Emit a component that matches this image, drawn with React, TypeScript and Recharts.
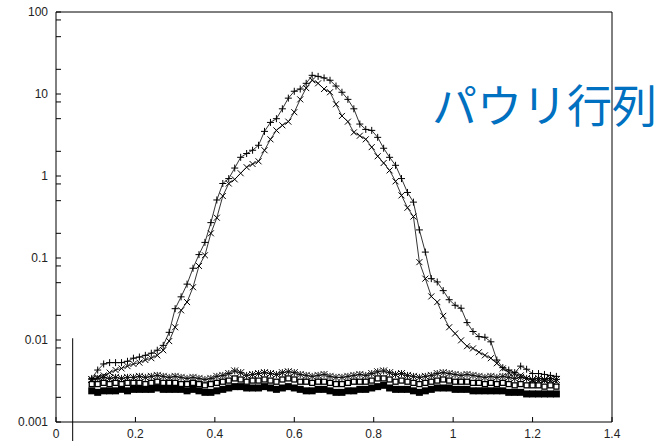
import { LineChart, Line, XAxis, YAxis, ReferenceLine } from 'recharts';

const xs = [
  0.09, 0.105, 0.12, 0.135, 0.15, 0.165, 0.18, 0.195, 0.21, 0.225,
  0.24, 0.255, 0.27, 0.285, 0.3, 0.315, 0.33, 0.345, 0.36, 0.375,
  0.39, 0.405, 0.42, 0.435, 0.45, 0.465, 0.48, 0.495, 0.51, 0.525,
  0.54, 0.555, 0.57, 0.585, 0.6, 0.615, 0.63, 0.645, 0.66, 0.675,
  0.69, 0.705, 0.72, 0.735, 0.75, 0.765, 0.78, 0.795, 0.81, 0.825,
  0.84, 0.855, 0.87, 0.885, 0.9, 0.915, 0.93, 0.945, 0.96, 0.975,
  0.99, 1.005, 1.02, 1.035, 1.05, 1.065, 1.08, 1.095, 1.11, 1.125,
  1.14, 1.155, 1.17, 1.185, 1.2, 1.215, 1.23, 1.245, 1.26,
];

// "+" series
const plusVals = [
  0.0034, 0.0043, 0.0051, 0.0053, 0.0053, 0.0053, 0.0055, 0.006, 0.0062, 0.0065,
  0.0069, 0.0075, 0.0086, 0.0124, 0.0241, 0.0336, 0.048, 0.075, 0.11, 0.155,
  0.27, 0.51, 0.81, 0.93, 1.25, 1.69, 1.88, 2.06, 2.37, 3.5,
  4.5, 5.0, 6.6, 8.9, 10.8, 11.5, 13.5, 16.9, 16.4, 15.7,
  14.7, 12.5, 10.5, 8.6, 6.6, 4.3, 3.7, 3.6, 2.96, 2.18,
  1.69, 1.35, 0.93, 0.63, 0.48, 0.22, 0.118, 0.056, 0.051, 0.04,
  0.031, 0.0265, 0.0244, 0.0163, 0.0127, 0.011, 0.0108, 0.0095, 0.0057, 0.0046,
  0.0043, 0.004, 0.0048, 0.0044, 0.0039, 0.0039, 0.0038, 0.0037, 0.0036,
];

// "x" series
const crossVals = [
  0.0033, 0.0035, 0.0037, 0.004, 0.0043, 0.0045, 0.0048, 0.0051, 0.0053, 0.0057,
  0.006, 0.0065, 0.0075, 0.0097, 0.0143, 0.023, 0.029, 0.044, 0.08, 0.108,
  0.2, 0.31, 0.57, 0.81, 0.91, 1.08, 1.28, 1.4, 1.51, 2.06,
  2.8, 3.6, 4.15, 4.6, 6.0, 8.6, 11.8, 14.7, 13.5, 11.5,
  10.5, 7.5, 5.4, 4.6, 3.4, 3.1, 2.8, 2.25, 1.74, 1.44,
  1.17, 0.86, 0.58, 0.41, 0.32, 0.089, 0.056, 0.034, 0.029, 0.0197,
  0.0143, 0.012, 0.0099, 0.0084, 0.0079, 0.0071, 0.0065, 0.006, 0.0052, 0.0045,
  0.004, 0.0039, 0.0037, 0.0034, 0.0032, 0.0032, 0.0032, 0.0032, 0.0031,
];

// flat background series
const starVals = [
  0.0033, 0.0034, 0.0035, 0.0034, 0.0035, 0.0034, 0.0035, 0.0035, 0.0036, 0.0035,
  0.0036, 0.0037, 0.0036, 0.0035, 0.0036, 0.0035, 0.0034, 0.0035, 0.0034, 0.0033,
  0.0034, 0.0036, 0.0037, 0.0039, 0.0042, 0.004, 0.0037, 0.0038, 0.0039, 0.004,
  0.0039, 0.0038, 0.004, 0.0041, 0.004, 0.0038, 0.0037, 0.0036, 0.0037, 0.0038,
  0.0036, 0.0035, 0.0035, 0.0036, 0.0037, 0.0038, 0.0037, 0.0039, 0.0041, 0.0042,
  0.004, 0.0038, 0.0039, 0.0037, 0.0036, 0.0035, 0.0036, 0.0037, 0.0039, 0.004,
  0.0039, 0.0038, 0.0037, 0.0038, 0.0037, 0.0036, 0.0035, 0.0036, 0.0035, 0.0036,
  0.0035, 0.0034, 0.0035, 0.0034, 0.0033, 0.0034, 0.0033, 0.0034, 0.0033,
];

const openSqVals = [
  0.0029, 0.0029, 0.003, 0.0029, 0.003, 0.0029, 0.003, 0.003, 0.003, 0.0029,
  0.003, 0.0031, 0.003, 0.003, 0.003, 0.0029, 0.0029, 0.003, 0.0029, 0.0028,
  0.0029, 0.003, 0.0031, 0.0032, 0.0034, 0.0033, 0.0031, 0.0032, 0.0032, 0.0033,
  0.0032, 0.0031, 0.0033, 0.0034, 0.0033, 0.0031, 0.0031, 0.003, 0.0031, 0.0031,
  0.003, 0.0029, 0.0029, 0.003, 0.0031, 0.0031, 0.0031, 0.0032, 0.0034, 0.0034,
  0.0033, 0.0031, 0.0032, 0.0031, 0.003, 0.0029, 0.003, 0.0031, 0.0032, 0.0033,
  0.0032, 0.0031, 0.0031, 0.0031, 0.003, 0.003, 0.0029, 0.003, 0.0029, 0.003,
  0.0029, 0.0028, 0.0029, 0.0028, 0.0028, 0.0028, 0.0027, 0.0028, 0.0027,
];

const fillSqVals = [
  0.0024, 0.0023, 0.0024, 0.0024, 0.0024, 0.0025, 0.0024, 0.0025, 0.0025, 0.0025,
  0.0025, 0.0026, 0.0025, 0.0025, 0.0025, 0.0025, 0.0024, 0.0025, 0.0024, 0.0023,
  0.0023, 0.0024, 0.0025, 0.0026, 0.0027, 0.0027, 0.0026, 0.0026, 0.0026, 0.0027,
  0.0026, 0.0025, 0.0026, 0.0027, 0.0026, 0.0025, 0.0024, 0.0024, 0.0025, 0.0025,
  0.0024, 0.0023, 0.0023, 0.0024, 0.0024, 0.0025, 0.0025, 0.0026, 0.0027, 0.0028,
  0.0026, 0.0025, 0.0025, 0.0025, 0.0024, 0.0023, 0.0024, 0.0025, 0.0026, 0.0026,
  0.0026, 0.0025, 0.0025, 0.0025, 0.0024, 0.0024, 0.0024, 0.0024, 0.0024, 0.0024,
  0.0023, 0.0023, 0.0023, 0.0022, 0.0022, 0.0022, 0.0022, 0.0022, 0.0022,
];

const xTicks = [0, 0.2, 0.4, 0.6, 0.8, 1, 1.2, 1.4];
const decades = [100, 10, 1, 0.1, 0.01, 0.001];
const yTicks = [
  100, 80, 50, 20, 10, 8, 5, 2, 1, 0.8, 0.5, 0.2,
  0.1, 0.08, 0.05, 0.02, 0.01, 0.008, 0.005, 0.002, 0.001,
];

const rows = xs.map((x, i) => ({
  x,
  plus: plusVals[i],
  cross: crossVals[i],
  star: starVals[i],
  openSq: openSqVals[i],
  fillSq: fillSqVals[i],
}));

const PlusDot = (p: any) => {
  if (p.cx == null || p.cy == null) return <g />;
  return <path d={`M${p.cx - 3.5},${p.cy}h7M${p.cx},${p.cy - 3.5}v7`} stroke="#000" strokeWidth={1} fill="none" />;
};
const CrossDot = (p: any) => {
  if (p.cx == null || p.cy == null) return <g />;
  const r = 3;
  return <path d={`M${p.cx - r},${p.cy - r}L${p.cx + r},${p.cy + r}M${p.cx - r},${p.cy + r}L${p.cx + r},${p.cy - r}`} stroke="#000" strokeWidth={1} fill="none" />;
};
const StarDot = (p: any) => {
  if (p.cx == null || p.cy == null) return <g />;
  const r = 3.5;
  return <path d={`M${p.cx - r},${p.cy}h${2 * r}M${p.cx},${p.cy - r}v${2 * r}M${p.cx - r},${p.cy - r}L${p.cx + r},${p.cy + r}M${p.cx - r},${p.cy + r}L${p.cx + r},${p.cy - r}`} stroke="#111" strokeWidth={1} fill="none" />;
};
const OpenSqDot = (p: any) => {
  if (p.cx == null || p.cy == null) return <g />;
  return <rect x={p.cx - 2.5} y={p.cy - 2.5} width={5} height={5} stroke="#000" strokeWidth={1.3} fill="#fff" />;
};
const FillSqDot = (p: any) => {
  if (p.cx == null || p.cy == null) return <g />;
  return <rect x={p.cx - 3.5} y={p.cy - 3.5} width={7} height={7} fill="#000" />;
};

const tickStyle = { fontSize: 12, fill: '#222', fontFamily: 'Liberation Sans, Arial, sans-serif' };

export default function App() {
  return (
    <div style={{ position: 'absolute', left: 0, top: 0, width: 668, height: 441, background: '#fff' }}>
      <LineChart width={668} height={441} data={rows} margin={{ top: 2, right: 0, bottom: 0, left: 0 }}>
        <XAxis dataKey="x" type="number" domain={[0, 1.4]} ticks={xTicks} allowDataOverflow
          axisLine={{ stroke: '#000' }} tickLine={{ stroke: '#000' }} tickSize={-5} tickMargin={12}
          height={19} tick={tickStyle} interval={0} />
        <XAxis xAxisId="top" orientation="top" type="number" domain={[0, 1.4]} ticks={xTicks} allowDataOverflow
          axisLine={{ stroke: '#000' }} tickLine={{ stroke: '#000' }} tickSize={-5} tick={false} height={10} />
        <YAxis scale="log" type="number" domain={[0.001, 100]} ticks={yTicks} allowDataOverflow
          axisLine={{ stroke: '#000' }} tickLine={{ stroke: '#000' }} tickSize={-5} tickMargin={13}
          width={56} tick={tickStyle} interval={0}
          tickFormatter={(v: number) => (decades.includes(v) ? String(v) : '')} />
        <YAxis yAxisId="right" orientation="right" scale="log" type="number" domain={[0.001, 100]} ticks={yTicks}
          allowDataOverflow axisLine={{ stroke: '#000' }} tickLine={{ stroke: '#000' }} tickSize={-5}
          tick={false} width={56} interval={0} />
        <ReferenceLine segment={[{ x: 0.042, y: 0.0105 }, { x: 0.042, y: 0.0004 }]} stroke="#000" strokeWidth={1} ifOverflow="visible" />
        <Line dataKey="star" stroke="#111" strokeWidth={0.8} dot={StarDot} isAnimationActive={false} />
        <Line dataKey="openSq" stroke="#111" strokeWidth={0.8} dot={OpenSqDot} isAnimationActive={false} />
        <Line dataKey="fillSq" stroke="#000" strokeWidth={0.8} dot={FillSqDot} isAnimationActive={false} />
        <Line dataKey="cross" stroke="#000" strokeWidth={0.8} dot={CrossDot} isAnimationActive={false} />
        <Line dataKey="plus" stroke="#000" strokeWidth={0.8} dot={PlusDot} isAnimationActive={false} />
      </LineChart>
      <div style={{ position: 'absolute', left: 432, top: 81, fontSize: 45, lineHeight: '45px', color: '#0070c0', whiteSpace: 'nowrap', fontFamily: '"Noto Sans CJK JP", sans-serif' }}>
        パウリ行列
      </div>
    </div>
  );
}
